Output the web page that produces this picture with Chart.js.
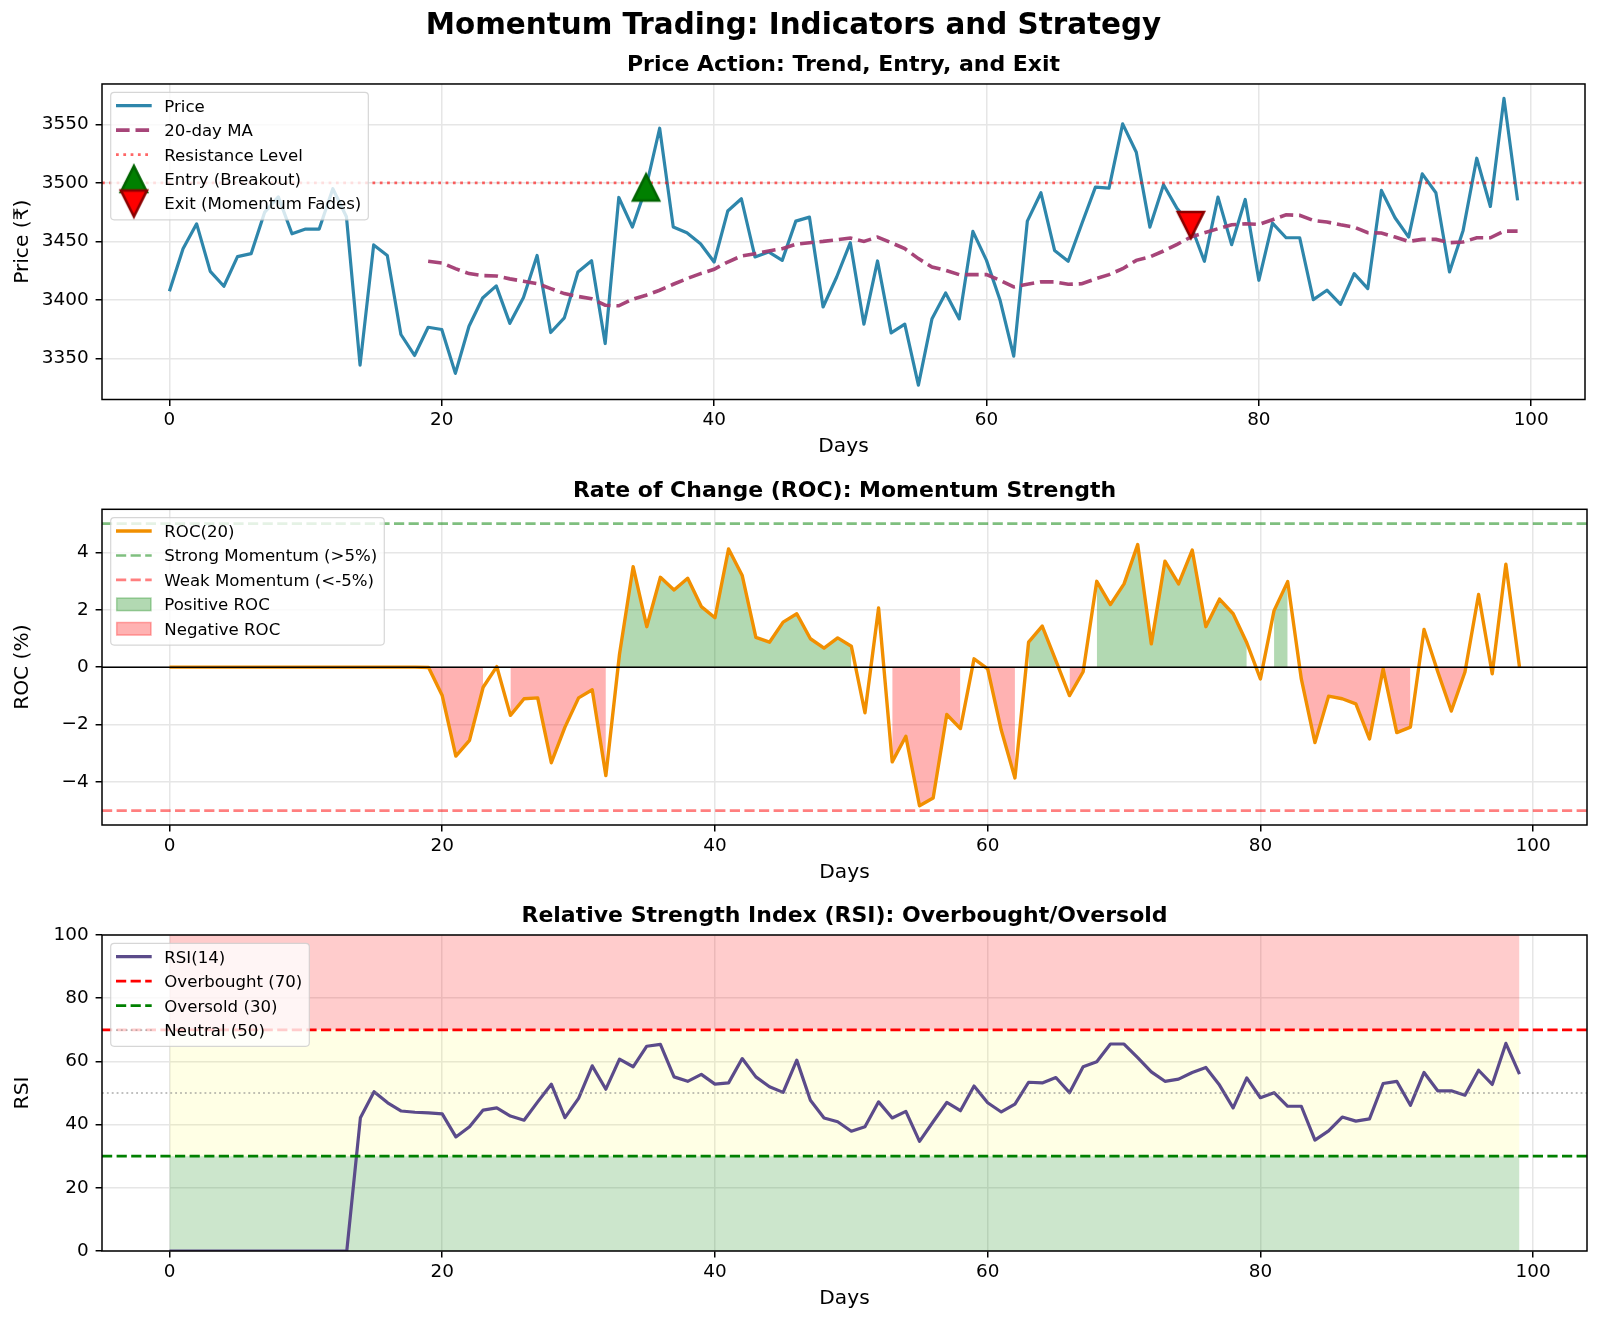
<!DOCTYPE html>
<html>
<head>
<meta charset="utf-8">
<script src="https://cdn.jsdelivr.net/npm/chart.js@4.4.0/dist/chart.umd.min.js"></script>
<style>
  html, body { margin: 0; padding: 0; background: #fff; }
  #wrap { position: relative; width: 1600px; height: 1324px; }
  canvas { position: absolute; left: 0; }
</style>
</head>
<body>
<div id="wrap">
  <canvas id="priceChart" width="1600" height="460" style="top:0px"></canvas>
  <canvas id="rocChart" width="1600" height="426" style="top:460px"></canvas>
  <canvas id="rsiChart" width="1600" height="438" style="top:886px"></canvas>
</div>
<script>
Chart.defaults.font.family = '"DejaVu Sans", sans-serif';
Chart.defaults.color = '#000';
Chart.defaults.animation = false;

// ---- data ----
var days = Array.from({length: 100}, function (_, i) { return i; });
var xTicks = [0, 20, 40, 60, 80, 100];
var xRange = [-4.95, 103.95];

var price = [
  3407.4, 3443.8, 3465.0, 3424.4, 3411.7, 3437.0, 3439.5, 3475.0, 3488.0, 3456.5,
  3460.5, 3460.5, 3495.0, 3471.0, 3344.4, 3447.0, 3438.0, 3370.5, 3352.6, 3376.7,
  3374.8, 3337.3, 3377.6, 3401.7, 3412.0, 3380.0, 3402.0, 3438.0, 3372.2, 3384.7,
  3423.9, 3433.5, 3362.8, 3487.5, 3462.2, 3496.0, 3546.6, 3462.2, 3457.4, 3448.0,
  3432.4, 3475.9, 3486.4, 3436.7, 3441.0, 3433.8, 3467.3, 3470.7, 3394.0, 3419.6,
  3448.9, 3379.3, 3433.3, 3371.9, 3379.3, 3327.3, 3384.0, 3406.0, 3383.8, 3458.5,
  3433.8, 3399.7, 3352.0, 3467.3, 3491.5, 3442.3, 3433.0, 3465.0, 3496.3, 3495.5,
  3550.3, 3526.1, 3462.2, 3498.3, 3478.0, 3464.0, 3433.0, 3487.8, 3447.2, 3485.8,
  3416.8, 3465.6, 3453.1, 3453.1, 3400.3, 3408.3, 3396.3, 3422.5, 3409.7, 3493.5,
  3470.2, 3453.7, 3507.7, 3491.5, 3423.9, 3459.4, 3521.0, 3479.8, 3572.1, 3485.0
];
var ma20 = [
  null, null, null, null, null, null, null, null, null, null,
  null, null, null, null, null, null, null, null, null, 3433.0,
  3431.6, 3426.7, 3422.5, 3420.8, 3420.5, 3418.0, 3416.0, 3414.0, 3409.7, 3405.4,
  3403.0, 3401.0, 3395.5, 3395.0, 3400.6, 3404.0, 3408.3, 3413.4, 3418.2, 3422.5,
  3426.2, 3432.4, 3437.5, 3439.5, 3441.8, 3443.8, 3447.5, 3448.9, 3450.0, 3451.4,
  3452.9, 3450.0, 3453.7, 3448.9, 3443.8, 3435.3, 3428.1, 3425.3, 3421.6, 3421.6,
  3421.6, 3416.8, 3411.1, 3413.4, 3415.4, 3415.4, 3413.4, 3413.8, 3418.0, 3421.6,
  3426.7, 3433.8, 3436.7, 3441.8, 3447.5, 3453.7, 3457.4, 3460.8, 3464.2, 3465.0,
  3464.5, 3468.5, 3472.7, 3472.2, 3467.9, 3466.5, 3464.2, 3462.2, 3457.4, 3457.1,
  3453.7, 3450.0, 3451.7, 3451.7, 3448.9, 3449.5, 3453.1, 3453.1, 3458.8, 3458.8
];
var resistance = 3500;
var entryDay = 35;
var exitDay = 75;
var priceTicks = [3350, 3400, 3450, 3500, 3550];
var priceRange = [3315, 3584.4];

var roc = [
  0, 0, 0, 0, 0, 0, 0, 0, 0, 0,
  0, 0, 0, 0, 0, 0, 0, 0, 0, -0.01,
  -0.99, -3.10, -2.55, -0.70, 0.02, -1.68, -1.10, -1.07, -3.33, -2.09,
  -1.07, -0.79, -3.78, 0.45, 3.50, 1.41, 3.13, 2.69, 3.10, 2.11,
  1.72, 4.12, 3.19, 1.04, 0.87, 1.57, 1.86, 0.99, 0.66, 1.02,
  0.73, -1.59, 2.06, -3.30, -2.41, -4.83, -4.56, -1.65, -2.14, 0.29,
  -0.06, -2.20, -3.86, 0.87, 1.43, 0.23, -0.99, -0.16, 2.99, 2.18,
  2.90, 4.27, 0.81, 3.69, 2.90, 4.08, 1.41, 2.37, 1.86, 0.85,
  -0.41, 1.97, 2.98, -0.41, -2.63, -1.01, -1.10, -1.28, -2.50, -0.06,
  -2.28, -2.09, 1.31, -0.15, -1.53, -0.17, 2.53, -0.23, 3.59, 0
];
var strongLevel = 5;
var weakLevel = -5;
var rocTicks = [-4, -2, 0, 2, 4];
var rocRange = [-5.5, 5.5];

var rsi = [
  0, 0, 0, 0, 0, 0, 0, 0, 0, 0,
  0, 0, 0, 0, 42.2, 50.4, 46.9, 44.3, 43.9, 43.7,
  43.4, 36.1, 39.3, 44.6, 45.3, 42.7, 41.4, 47.2, 52.8, 42.2,
  48.3, 58.6, 51.2, 60.7, 58.3, 64.8, 65.4, 55.1, 53.7, 55.9,
  52.8, 53.2, 60.9, 55.1, 52.0, 50.2, 60.4, 47.7, 42.1, 40.9,
  37.9, 39.3, 47.2, 42.1, 44.2, 34.7, 40.9, 47.0, 44.4, 52.2,
  46.9, 44.0, 46.5, 53.4, 53.2, 54.9, 50.1, 58.3, 59.9, 65.5,
  65.5, 61.2, 56.7, 53.7, 54.4, 56.5, 58.1, 52.5, 45.3, 54.8,
  48.5, 50.1, 45.8, 45.8, 35.1, 38.0, 42.4, 41.1, 41.8, 53.0,
  53.7, 46.1, 56.5, 50.7, 50.7, 49.3, 57.2, 52.7, 65.7, 56.0
];
var overbought = 70;
var oversold = 30;
var neutral = 50;
var rsiTicks = [0, 20, 40, 60, 80, 100];
var rsiRange = [0, 100];

// ---- colours ----
var cPrice = '#2E86AB', cMA = 'rgba(162,59,114,0.95)', cRoc = '#F18F01', cRsi = '#5B4B8A';

// ---- helpers ----
function fmt(v) { return v < 0 ? '\u2212' + Math.abs(v) : String(v); }

function triangle(fill, edge, down) {
  var c = document.createElement('canvas');
  c.width = 38; c.height = 38;
  var g = c.getContext('2d'), m = 19, s = 13;
  g.beginPath();
  if (!down) { g.moveTo(m, m - s); g.lineTo(m - s, m + s); g.lineTo(m + s, m + s); }
  else { g.moveTo(m, m + s); g.lineTo(m - s, m - s); g.lineTo(m + s, m - s); }
  g.closePath();
  g.fillStyle = fill; g.fill();
  g.lineWidth = 2.6; g.strokeStyle = edge; g.lineJoin = 'miter'; g.stroke();
  return c;
}
var entryMark = triangle('#008000', '#006400', false);
var exitMark = triangle('#ff0000', '#8b0000', true);

function hline(chart, l) {
  var ctx = chart.ctx, a = chart.chartArea;
  var y = chart.scales.y.getPixelForValue(l.value);
  ctx.save();
  ctx.beginPath(); ctx.rect(a.left, a.top, a.right - a.left, a.bottom - a.top); ctx.clip();
  ctx.beginPath();
  ctx.setLineDash(l.dash || []);
  ctx.lineWidth = l.width; ctx.strokeStyle = l.color; ctx.lineCap = 'butt';
  ctx.moveTo(a.left, y); ctx.lineTo(a.right, y); ctx.stroke();
  ctx.restore();
}

function drawLegend(chart, items) {
  var ctx = chart.ctx, a = chart.chartArea;
  ctx.save();
  ctx.font = '16.6px "DejaVu Sans"';
  var maxW = 0;
  items.forEach(function (it) { maxW = Math.max(maxW, ctx.measureText(it.label).width); });
  var bx = a.left + 8.7, by = a.top + 8.3;
  var hx0 = bx + 5.3, hx1 = hx0 + 35.7, tx = hx0 + 48.3;
  var bw = tx + maxW + 7 - bx;
  var rowH = 24.45, row0 = by + 13.4;
  var bh = 13.4 + (items.length - 1) * rowH + 16.3, r = 3.5;
  ctx.beginPath();
  ctx.moveTo(bx + r, by); ctx.lineTo(bx + bw - r, by); ctx.arcTo(bx + bw, by, bx + bw, by + r, r);
  ctx.lineTo(bx + bw, by + bh - r); ctx.arcTo(bx + bw, by + bh, bx + bw - r, by + bh, r);
  ctx.lineTo(bx + r, by + bh); ctx.arcTo(bx, by + bh, bx, by + bh - r, r);
  ctx.lineTo(bx, by + r); ctx.arcTo(bx, by, bx + r, by, r); ctx.closePath();
  ctx.fillStyle = 'rgba(255,255,255,0.8)'; ctx.fill();
  ctx.lineWidth = 1.2; ctx.strokeStyle = 'rgba(204,204,204,0.8)'; ctx.stroke();
  items.forEach(function (it, i) {
    var y = row0 + i * rowH;
    if (it.marker) {
      ctx.drawImage(it.marker, (hx0 + hx1) / 2 - it.marker.width / 2, y - it.marker.height / 2);
    } else if (it.patch) {
      ctx.fillStyle = it.patch; ctx.fillRect(hx0 + 0.7, y - 6.3, 34.3, 12.6);
      ctx.strokeStyle = it.patch; ctx.lineWidth = 1.5; ctx.strokeRect(hx0 + 0.7, y - 6.3, 34.3, 12.6);
    } else {
      ctx.beginPath(); ctx.setLineDash(it.dash || []);
      ctx.lineWidth = it.width; ctx.strokeStyle = it.color; ctx.lineCap = 'butt';
      ctx.moveTo(hx0, y); ctx.lineTo(hx1, y); ctx.stroke(); ctx.setLineDash([]);
    }
    ctx.fillStyle = '#000'; ctx.textBaseline = 'alphabetic'; ctx.textAlign = 'left';
    ctx.fillText(it.label, tx, y + 6);
  });
  ctx.restore();
}

// draws axhlines, the four spines and a matplotlib style legend
function decor(lines, legendItems) {
  return {
    id: 'mplDecor',
    afterDatasetDraw: function (chart, args) {
      lines.forEach(function (l) { if (l.after === args.index) hline(chart, l); });
    },
    afterDatasetsDraw: function (chart) {
      lines.forEach(function (l) { if (l.after === undefined) hline(chart, l); });
      var ctx = chart.ctx, a = chart.chartArea;
      ctx.save(); ctx.strokeStyle = '#000'; ctx.lineWidth = 1.5;
      ctx.strokeRect(a.left, a.top, a.right - a.left, a.bottom - a.top);
      ctx.restore();
      drawLegend(chart, legendItems);
    }
  };
}

var gridOpts = { color: '#e6e6e6', lineWidth: 1.5, tickLength: 6.4, tickColor: '#000', tickWidth: 1.5 };

function xScale(h, padBottom) {
  return {
    type: 'linear', min: xRange[0], max: xRange[1],
    afterBuildTicks: function (s) { s.ticks = xTicks.map(function (v) { return {value: v}; }); },
    afterFit: function (s) { s.height = h; },
    ticks: { font: {size: 18.4}, color: '#000', padding: 3.5, maxRotation: 0, autoSkip: false, callback: fmt },
    grid: gridOpts,
    border: { display: false },
    title: { display: true, text: 'Days', font: {size: 20.2}, color: '#000', padding: {top: 0, bottom: padBottom} }
  };
}
function yScale(range, ticks, label) {
  return {
    type: 'linear', min: range[0], max: range[1],
    afterBuildTicks: function (s) { s.ticks = ticks.map(function (v) { return {value: v}; }); },
    afterFit: function (s) { s.width = 102; },
    ticks: { font: {size: 18.4}, color: '#000', padding: 7, autoSkip: false, callback: fmt },
    grid: gridOpts,
    border: { display: false },
    title: { display: true, text: label, font: {size: 20.2}, color: '#000', padding: {top: 10.6, bottom: 0} }
  };
}
function baseOpts() {
  return {
    responsive: false, maintainAspectRatio: false, devicePixelRatio: 1, events: [],
    layout: { padding: { left: 0, right: 13, top: 0, bottom: 0 } },
    plugins: { legend: { display: false }, tooltip: { enabled: false } }
  };
}

// ---- price panel ----
var o1 = baseOpts();
o1.scales = { x: xScale(60.5, 0.88), y: yScale(priceRange, priceTicks, 'Price (\u20b9)') };
o1.plugins.title = { display: true, text: 'Momentum Trading: Indicators and Strategy',
  font: {size: 29.4, weight: 'bold'}, color: '#000', padding: {top: 8.9, bottom: 0} };
o1.plugins.subtitle = { display: true, text: 'Price Action: Trend, Entry, and Exit', fullSize: false,
  font: {size: 22, weight: 'bold'}, color: '#000', padding: {top: 7.9, bottom: 5.5} };

new Chart(document.getElementById('priceChart'), {
  type: 'line',
  data: {
    labels: days,
    datasets: [
      { data: price, borderColor: cPrice, borderWidth: 3.2, pointRadius: 0, borderJoinStyle: 'round', order: 3 },
      { data: ma20, borderColor: cMA, borderWidth: 3.6, borderDash: [13.6, 5.9], pointRadius: 0, order: 2 },
      { data: [{x: entryDay, y: price[entryDay]}], showLine: false, pointStyle: entryMark, pointRadius: 14, order: 0 },
      { data: [{x: exitDay, y: price[exitDay]}], showLine: false, pointStyle: exitMark, pointRadius: 14, order: 0 }
    ]
  },
  options: o1,
  plugins: [decor(
    [ { value: resistance, color: 'rgba(255,0,0,0.6)', width: 2.76, dash: [2.76, 4.55], after: 1 } ],
    [
      { label: 'Price', color: cPrice, width: 3.2 },
      { label: '20-day MA', color: cMA, width: 3.6, dash: [13.6, 5.9] },
      { label: 'Resistance Level', color: 'rgba(255,0,0,0.6)', width: 2.76, dash: [2.76, 4.55] },
      { label: 'Entry (Breakout)', marker: entryMark },
      { label: 'Exit (Momentum Fades)', marker: exitMark }
    ])]
});

// ---- ROC panel ----
var o2 = baseOpts();
o2.scales = { x: xScale(61, 0.88), y: yScale(rocRange, rocTicks, 'ROC (%)') };
o2.plugins.title = { display: true, text: 'Rate of Change (ROC): Momentum Strength', fullSize: false,
  font: {size: 22, weight: 'bold'}, color: '#000', padding: {top: 17.8, bottom: 5.1} };

new Chart(document.getElementById('rocChart'), {
  type: 'line',
  data: {
    labels: days,
    datasets: [
      { data: roc, borderColor: cRoc, borderWidth: 3.4, pointRadius: 0, borderJoinStyle: 'round', order: 1 },
      { data: roc.map(function (v) { return v > 0 ? v : null; }), borderWidth: 0, pointRadius: 0,
        fill: 'origin', backgroundColor: 'rgba(0,128,0,0.3)', order: 3 },
      { data: roc.map(function (v) { return v < 0 ? v : null; }), borderWidth: 0, pointRadius: 0,
        fill: 'origin', backgroundColor: 'rgba(255,0,0,0.3)', order: 3 }
    ]
  },
  options: o2,
  plugins: [decor(
    [
      { value: strongLevel, color: 'rgba(0,128,0,0.5)', width: 2.6, dash: [10.2, 4.4] },
      { value: weakLevel, color: 'rgba(255,0,0,0.5)', width: 2.6, dash: [10.2, 4.4] },
      { value: 0, color: '#000', width: 1.5 }
    ],
    [
      { label: 'ROC(20)', color: cRoc, width: 3.4 },
      { label: 'Strong Momentum (>5%)', color: 'rgba(0,128,0,0.5)', width: 2.6, dash: [10.2, 4.4] },
      { label: 'Weak Momentum (<-5%)', color: 'rgba(255,0,0,0.5)', width: 2.6, dash: [10.2, 4.4] },
      { label: 'Positive ROC', patch: 'rgba(0,128,0,0.3)' },
      { label: 'Negative ROC', patch: 'rgba(255,0,0,0.3)' }
    ])]
});

// ---- RSI panel ----
var o3 = baseOpts();
o3.scales = { x: xScale(73, 12.88), y: yScale(rsiRange, rsiTicks, 'RSI') };
o3.plugins.title = { display: true, text: 'Relative Strength Index (RSI): Overbought/Oversold', fullSize: false,
  font: {size: 22, weight: 'bold'}, color: '#000', padding: {top: 16.8, bottom: 5.8} };

new Chart(document.getElementById('rsiChart'), {
  type: 'line',
  data: {
    labels: days,
    datasets: [
      { data: rsi, borderColor: cRsi, borderWidth: 3.2, pointRadius: 0, borderJoinStyle: 'round', order: 1 },
      { data: days.map(function () { return overbought; }), borderWidth: 0, pointRadius: 0,
        fill: {value: rsiRange[1]}, backgroundColor: 'rgba(255,0,0,0.2)', order: 5 },
      { data: days.map(function () { return oversold; }), borderWidth: 0, pointRadius: 0,
        fill: {value: overbought}, backgroundColor: 'rgba(255,255,0,0.1)', order: 5 },
      { data: days.map(function () { return rsiRange[0]; }), borderWidth: 0, pointRadius: 0,
        fill: {value: oversold}, backgroundColor: 'rgba(0,128,0,0.2)', order: 5 }
    ]
  },
  options: o3,
  plugins: [decor(
    [
      { value: overbought, color: '#ff0000', width: 2.76, dash: [10.2, 4.4] },
      { value: oversold, color: '#008000', width: 2.76, dash: [10.2, 4.4] },
      { value: neutral, color: 'rgba(128,128,128,0.5)', width: 1.84, dash: [1.84, 3.04] }
    ],
    [
      { label: 'RSI(14)', color: cRsi, width: 3.2 },
      { label: 'Overbought (70)', color: '#ff0000', width: 2.76, dash: [10.2, 4.4] },
      { label: 'Oversold (30)', color: '#008000', width: 2.76, dash: [10.2, 4.4] },
      { label: 'Neutral (50)', color: 'rgba(128,128,128,0.5)', width: 1.84, dash: [1.84, 3.04] }
    ])]
});
</script>
</body>
</html>
